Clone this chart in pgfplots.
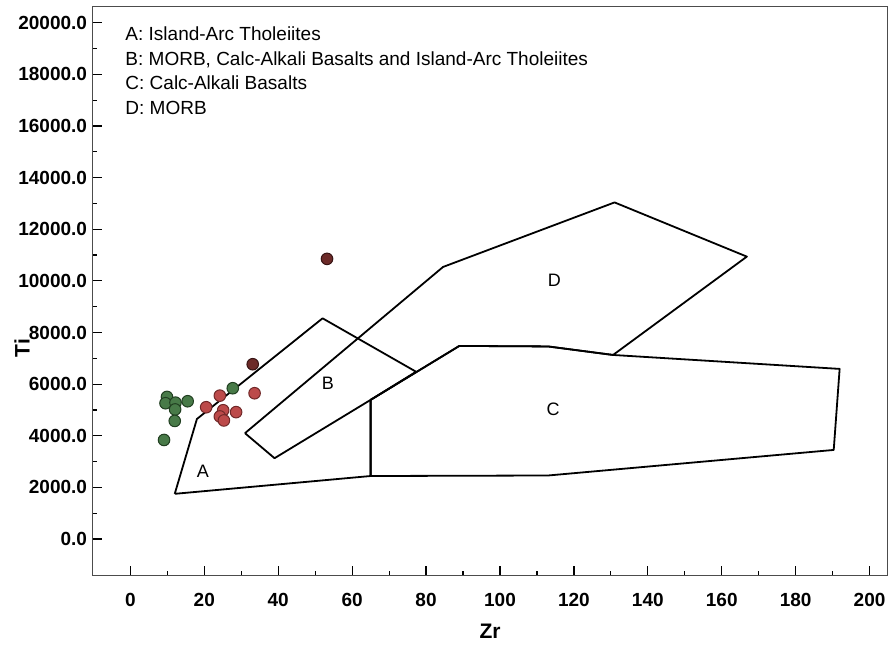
\documentclass[border=0pt]{standalone}
\usepackage{pgfplots}
\pgfplotsset{compat=1.18}
\usepackage{fontspec}
\setmainfont{Liberation Sans}
\usetikzlibrary{calc}

\definecolor{ptgreen}{RGB}{72,122,72}
\definecolor{ptgreenedge}{RGB}{32,62,32}
\definecolor{ptred}{RGB}{188,74,74}
\definecolor{ptrededge}{RGB}{112,40,40}
\definecolor{ptbrown}{RGB}{108,42,40}
\definecolor{ptbrownedge}{RGB}{55,20,20}

\newcommand{\ticksize}{\fontsize{19}{22}\selectfont\bfseries}
\newcommand{\textsz}{\fontsize{19}{22}\selectfont}

\begin{document}
\begin{tikzpicture}
\begin{axis}[
  scale only axis,
  width=794.6pt, height=569pt,
  xmin=-10.2, xmax=204.8,
  ymin=-1395, ymax=20650,
  xtick={0,20,...,200},
  ytick={0,2000,...,20000},
  minor x tick num=1, minor y tick num=1,
  tick align=inside,
  xtick pos=bottom, ytick pos=left,
  major tick length=9pt, minor tick length=4pt,
  every tick/.style={black, line width=1.2pt},
  axis line style={black!70, line width=0.9pt},
  scaled x ticks=false, scaled y ticks=false,
  /pgf/number format/assume math mode=true,
  x tick label style={font=\ticksize, inner sep=0pt, anchor=north, yshift=-18pt,
    /pgf/number format/.cd, fixed, precision=0},
  y tick label style={font=\ticksize, inner sep=0pt, anchor=east, xshift=-5.5pt,
    /pgf/number format/.cd, fixed, fixed zerofill, precision=1, 1000 sep={}},
  xlabel={Zr}, ylabel={Ti},
  xlabel style={at={(axis description cs:0.5,-0.0997)}, anchor=center,
    font=\fontsize{21}{24}\selectfont\bfseries},
  ylabel style={at={(axis description cs:-0.089,0.399)}, anchor=center,
    font=\fontsize{21}{24}\selectfont\bfseries},
  clip=false,
]

% Field boundaries (Pearce & Cann Ti-Zr discrimination)
% outer boundary of fields A and B
\addplot[black, line width=1.8pt, line join=round, mark=none] coordinates {
  (12,1750) (18,4650) (52,8550) (77.3,6480) (65,5390) (65,2440) (12,1750)
};
% field D (and the inner B quadrilateral)
\addplot[black, line width=1.8pt, line join=round, mark=none] coordinates {
  (31,4100) (84.6,10540) (131,13040) (166.8,10940) (130.6,7130)
  (113,7460) (89,7480) (65,5390) (39,3130) (31,4100)
};
% field C
\addplot[black, line width=1.8pt, line join=round, mark=none] coordinates {
  (65,5390) (89,7480) (113,7460) (130.6,7130) (191.9,6590)
  (190.3,3450) (113,2460) (65,2440) (65,5390)
};

% field letters
\node[font=\fontsize{18}{20}\selectfont] at (axis cs:19.6,2610) {A};
\node[font=\fontsize{18}{20}\selectfont] at (axis cs:53.4,6035) {B};
\node[font=\fontsize{18}{20}\selectfont] at (axis cs:114.4,5040) {C};
\node[font=\fontsize{18}{20}\selectfont] at (axis cs:114.7,10040) {D};

% samples
\addplot[only marks, mark=*, mark size=5.8pt,
  mark options={fill=ptgreen, draw=ptgreenedge, line width=1pt}] coordinates {
  (9.9,5504) (9.5,5260) (12.2,5283) (12.1,5019) (15.5,5337)
  (12.0,4574) (9.1,3837) (27.7,5841)
};
\addplot[only marks, mark=*, mark size=5.8pt,
  mark options={fill=ptred, draw=ptrededge, line width=1pt}] coordinates {
  (33.6,5647) (24.2,5554) (20.5,5105) (25.1,4988) (28.6,4915)
  (24.2,4748) (25.3,4593)
};
\addplot[only marks, mark=*, mark size=5.8pt,
  mark options={fill=ptbrown, draw=ptbrownedge, line width=1pt}] coordinates {
  (33.1,6771) (53.2,10853)
};

% key to the fields
\node[font=\textsz, anchor=base west, inner sep=0pt] at (axis description cs:0.041,0.9385) {A: Island-Arc Tholeiites};
\node[font=\textsz, anchor=base west, inner sep=0pt] at (axis description cs:0.041,0.8955) {B: MORB, Calc-Alkali Basalts and Island-Arc Tholeiites};
\node[font=\textsz, anchor=base west, inner sep=0pt] at (axis description cs:0.041,0.8525) {C: Calc-Alkali Basalts};
\node[font=\textsz, anchor=base west, inner sep=0pt] at (axis description cs:0.041,0.8095) {D: MORB};
\end{axis}
\pgfresetboundingbox
\path ($(current axis.south west)+(-92.7pt,-70pt)$) rectangle ($(current axis.north east)+(3.7pt,6pt)$);
\end{tikzpicture}
\end{document}
